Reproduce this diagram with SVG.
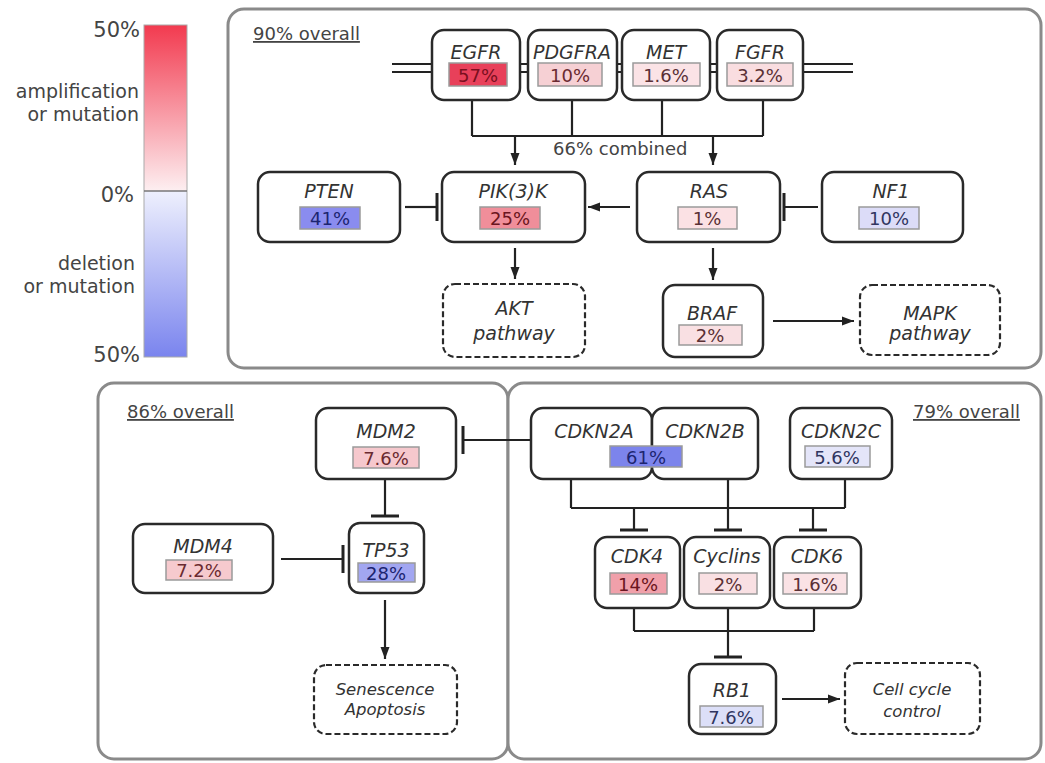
<svg xmlns="http://www.w3.org/2000/svg" width="1045" height="763" viewBox="0 0 1045 763">
<defs>
<linearGradient id="gradUp" x1="0" y1="0" x2="0" y2="1">
<stop offset="0" stop-color="#f23a4f"/><stop offset="1" stop-color="#fdeff1"/>
</linearGradient>
<linearGradient id="gradDown" x1="0" y1="0" x2="0" y2="1">
<stop offset="0" stop-color="#eef0fd"/><stop offset="1" stop-color="#7a84ee"/>
</linearGradient>
<marker id="arrow" markerUnits="userSpaceOnUse" markerWidth="12" markerHeight="12" viewBox="0 0 12 12" refX="12" refY="6" orient="auto">
<path d="M0,1.5 L12,6 L0,10.5 Z" fill="#222"/>
</marker>
<marker id="tee" markerUnits="userSpaceOnUse" markerWidth="4" markerHeight="30" viewBox="0 0 4 30" refX="2" refY="15" orient="auto">
<path d="M2,1 V29" stroke="#222" stroke-width="3"/>
</marker>
</defs>
<style>
.panel{fill:#fff;stroke:#8a8a8a;stroke-width:3}
.node{fill:#fff;stroke:#2a2a2a;stroke-width:2.5}
.dash{fill:#fff;stroke:#2a2a2a;stroke-width:2.2;stroke-dasharray:6 3}
.pb{stroke:#9a9a9a;stroke-width:1.5}
.gene{font-family:"DejaVu Sans",sans-serif;font-style:italic;font-size:19px;fill:#333;text-anchor:middle}
.pct{font-family:"DejaVu Sans",sans-serif;font-size:18px;text-anchor:middle}
.out{font-family:"DejaVu Sans",sans-serif;font-style:italic;font-size:19px;fill:#333;text-anchor:middle}
.outs{font-family:"DejaVu Sans",sans-serif;font-style:italic;font-size:16.5px;fill:#333;text-anchor:middle}
.lab{font-family:"DejaVu Sans",sans-serif;font-size:18px;fill:#444}
.leg{font-family:"DejaVu Sans",sans-serif;font-size:19px;fill:#444;text-anchor:end}
.legn{font-family:"DejaVu Sans",sans-serif;font-size:21px;fill:#444;text-anchor:end}
.conn{fill:none;stroke:#222;stroke-width:2.2}
</style>
<rect width="1045" height="763" fill="#fff"/>

<g id="legend">
<rect x="144" y="25" width="43" height="166" fill="url(#gradUp)"/>
<rect x="144" y="191" width="43" height="166" fill="url(#gradDown)"/>
<rect x="144" y="25" width="43" height="332" fill="none" stroke="#aaa" stroke-width="1"/>
<line x1="144" y1="191" x2="187" y2="191" stroke="#777" stroke-width="1.5"/>
<text class="legn" x="140" y="37">50%</text>
<text class="leg" x="139" y="98">amplification</text>
<text class="leg" x="139" y="121">or mutation</text>
<text class="legn" x="134" y="202">0%</text>
<text class="leg" x="135" y="270">deletion</text>
<text class="leg" x="135" y="293">or mutation</text>
<text class="legn" x="140" y="362">50%</text>
</g>

<g id="panels">
<rect class="panel" x="228" y="9" width="813" height="359" rx="16"/>
<rect class="panel" x="98" y="383" width="410" height="376" rx="16"/>
<rect class="panel" x="508" y="383" width="533" height="376" rx="16"/>
<text class="lab" x="253" y="40" text-decoration="underline">90% overall</text>
<text class="lab" x="127" y="418" text-decoration="underline">86% overall</text>
<text class="lab" x="913" y="418" text-decoration="underline">79% overall</text>
<text class="lab" x="553" y="155" font-size="17">66% combined</text>
</g>

<g id="connectors">
<path class="conn" d="M392,64 H853 M392,72 H853"/>
<path class="conn" d="M472,100 V136 M572,100 V136 M662,100 V136 M763,100 V136 M472,136 H763"/>
<path class="conn" d="M515,136 V165" marker-end="url(#arrow)"/>
<path class="conn" d="M713,136 V165" marker-end="url(#arrow)"/>
<path class="conn" d="M405,207 H437" marker-end="url(#tee)"/>
<path class="conn" d="M630,207 H588" marker-end="url(#arrow)"/>
<path class="conn" d="M818,207 H784" marker-end="url(#tee)"/>
<path class="conn" d="M515,248 V279" marker-end="url(#arrow)"/>
<path class="conn" d="M713,248 V280" marker-end="url(#arrow)"/>
<path class="conn" d="M773,321 H854" marker-end="url(#arrow)"/>
<path class="conn" d="M531,440 H463" marker-end="url(#tee)"/>
<path class="conn" d="M385,479 V516" marker-end="url(#tee)"/>
<path class="conn" d="M281,559 H343" marker-end="url(#tee)"/>
<path class="conn" d="M385,600 V659" marker-end="url(#arrow)"/>
<path class="conn" d="M571,479 V508 M728,479 V508 M845,479 V508 M571,508 H845"/>
<path class="conn" d="M634,508 V530" marker-end="url(#tee)"/>
<path class="conn" d="M728,508 V530" marker-end="url(#tee)"/>
<path class="conn" d="M813,508 V530" marker-end="url(#tee)"/>
<path class="conn" d="M634,608 V631 M728,608 V631 M814,608 V631 M634,631 H814"/>
<path class="conn" d="M728,631 V657" marker-end="url(#tee)"/>
<path class="conn" d="M782,699 H840" marker-end="url(#arrow)"/>
</g>

<g id="EGFR">
<rect class="node" x="432" y="30" width="88" height="70" rx="12"/>
<text class="gene" x="476" y="59">EGFR</text>
<rect class="pb" x="449" y="63" width="58" height="23" fill="#e8405a"/>
<text class="pct" x="478" y="82" fill="#7a0f1e">57%</text>
</g>
<g id="PDGFRA">
<rect class="node" x="528" y="30" width="89" height="70" rx="12"/>
<text class="gene" x="572" y="59">PDGFRA</text>
<rect class="pb" x="538" y="63" width="64" height="23" fill="#f6d0d4"/>
<text class="pct" x="570" y="82" fill="#6a2a30">10%</text>
</g>
<g id="MET">
<rect class="node" x="622" y="30" width="88" height="70" rx="12"/>
<text class="gene" x="666" y="59">MET</text>
<rect class="pb" x="633" y="63" width="67" height="23" fill="#fbe3e6"/>
<text class="pct" x="666" y="82" fill="#5a3035">1.6%</text>
</g>
<g id="FGFR">
<rect class="node" x="717" y="30" width="86" height="70" rx="12"/>
<text class="gene" x="760" y="59">FGFR</text>
<rect class="pb" x="727" y="63" width="66" height="23" fill="#f9dde0"/>
<text class="pct" x="760" y="82" fill="#5a3035">3.2%</text>
</g>

<g id="PTEN">
<rect class="node" x="258" y="172" width="142" height="70" rx="12"/>
<text class="gene" x="329" y="198">PTEN</text>
<rect class="pb" x="300" y="207" width="60" height="22" fill="#8a8cef"/>
<text class="pct" x="330" y="225" fill="#1c2470">41%</text>
</g>
<g id="PIK3K">
<rect class="node" x="442" y="172" width="143" height="70" rx="12"/>
<text class="gene" x="513" y="198">PIK(3)K</text>
<rect class="pb" x="480" y="207" width="60" height="22" fill="#f08e9a"/>
<text class="pct" x="510" y="225" fill="#6a1520">25%</text>
</g>
<g id="RAS">
<rect class="node" x="637" y="172" width="143" height="70" rx="12"/>
<text class="gene" x="709" y="198">RAS</text>
<rect class="pb" x="678" y="207" width="59" height="22" fill="#fbe1e4"/>
<text class="pct" x="707" y="225" fill="#5a3035">1%</text>
</g>
<g id="NF1">
<rect class="node" x="822" y="172" width="141" height="70" rx="12"/>
<text class="gene" x="891" y="198">NF1</text>
<rect class="pb" x="859" y="207" width="60" height="22" fill="#dcdcf8"/>
<text class="pct" x="889" y="225" fill="#303560">10%</text>
</g>

<g id="AKT">
<rect class="dash" x="443" y="284" width="142" height="73" rx="12"/>
<text class="out" x="514" y="315">AKT</text>
<text class="out" x="514" y="340">pathway</text>
</g>
<g id="BRAF">
<rect class="node" x="663" y="285" width="100" height="72" rx="12"/>
<text class="gene" x="712" y="320">BRAF</text>
<rect class="pb" x="679" y="325" width="63" height="20" fill="#f9e0e3"/>
<text class="pct" x="710" y="342" fill="#5a3035">2%</text>
</g>
<g id="MAPK">
<rect class="dash" x="860" y="285" width="140" height="70" rx="12"/>
<text class="out" x="930" y="320">MAPK</text>
<text class="out" x="930" y="340">pathway</text>
</g>

<g id="MDM2">
<rect class="node" x="316" y="408" width="140" height="71" rx="12"/>
<text class="gene" x="386" y="438">MDM2</text>
<rect class="pb" x="353" y="447" width="66" height="21" fill="#f6c8cd"/>
<text class="pct" x="386" y="465" fill="#6a2a30">7.6%</text>
</g>
<g id="TP53">
<rect class="node" x="349" y="523" width="75" height="70" rx="11"/>
<text class="gene" x="386" y="557">TP53</text>
<rect class="pb" x="358" y="563" width="57" height="19" fill="#a2a6f1"/>
<text class="pct" x="386" y="580" fill="#1c2470">28%</text>
</g>
<g id="MDM4">
<rect class="node" x="133" y="524" width="140" height="69" rx="12"/>
<text class="gene" x="203" y="553">MDM4</text>
<rect class="pb" x="166" y="560" width="66" height="20" fill="#f6cace"/>
<text class="pct" x="199" y="577" fill="#6a2a30">7.2%</text>
</g>
<g id="Senescence">
<rect class="dash" x="314" y="665" width="143" height="69" rx="12"/>
<text class="outs" x="385" y="695">Senescence</text>
<text class="outs" x="385" y="715">Apoptosis</text>
</g>

<g id="CDKN2A">
<rect class="node" x="531" y="408" width="121" height="71" rx="12"/>
<text class="gene" x="594" y="438">CDKN2A</text>
</g>
<g id="CDKN2B">
<rect class="node" x="652" y="408" width="106" height="71" rx="12"/>
<text class="gene" x="705" y="438">CDKN2B</text>
<rect class="pb" x="610" y="446" width="72" height="21" fill="#7c84ec"/>
<text class="pct" x="646" y="464" fill="#1c2470">61%</text>
</g>
<g id="CDKN2C">
<rect class="node" x="790" y="408" width="102" height="71" rx="12"/>
<text class="gene" x="841" y="438">CDKN2C</text>
<rect class="pb" x="805" y="446" width="65" height="21" fill="#e4e5f9"/>
<text class="pct" x="837" y="464" fill="#303560">5.6%</text>
</g>

<g id="CDK4">
<rect class="node" x="595" y="537" width="85" height="71" rx="12"/>
<text class="gene" x="637" y="563">CDK4</text>
<rect class="pb" x="610" y="573" width="57" height="21" fill="#f0a0aa"/>
<text class="pct" x="638" y="591" fill="#6a1520">14%</text>
</g>
<g id="Cyclins">
<rect class="node" x="684" y="537" width="86" height="71" rx="12"/>
<text class="gene" x="727" y="563">Cyclins</text>
<rect class="pb" x="699" y="573" width="58" height="21" fill="#f9e0e3"/>
<text class="pct" x="728" y="591" fill="#5a3035">2%</text>
</g>
<g id="CDK6">
<rect class="node" x="774" y="537" width="87" height="71" rx="12"/>
<text class="gene" x="817" y="563">CDK6</text>
<rect class="pb" x="783" y="573" width="64" height="21" fill="#fae2e5"/>
<text class="pct" x="815" y="591" fill="#5a3035">1.6%</text>
</g>

<g id="RB1">
<rect class="node" x="689" y="664" width="87" height="70" rx="12"/>
<text class="gene" x="732" y="697">RB1</text>
<rect class="pb" x="700" y="706" width="63" height="21" fill="#dcdff8"/>
<text class="pct" x="731" y="724" fill="#303560">7.6%</text>
</g>
<g id="CellCycle">
<rect class="dash" x="845" y="663" width="135" height="71" rx="12"/>
<text class="outs" x="912" y="695">Cell cycle</text>
<text class="outs" x="912" y="717">control</text>
</g>
</svg>
